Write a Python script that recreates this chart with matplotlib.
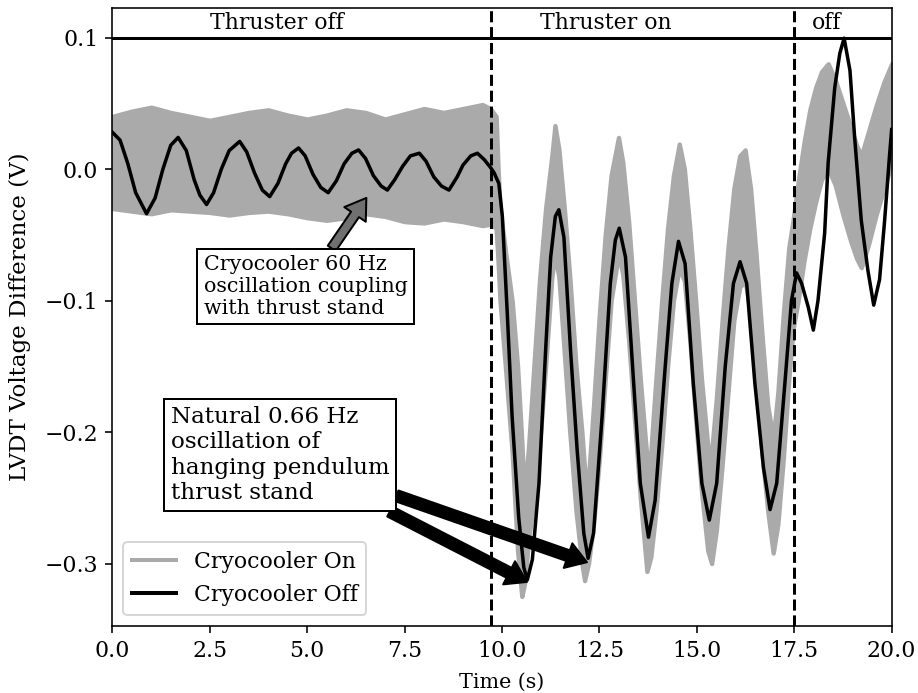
import numpy as np
import matplotlib
matplotlib.use('Agg')
import matplotlib.pyplot as plt
from matplotlib.lines import Line2D

plt.rcParams['font.family'] = 'serif'
plt.rcParams['font.serif'] = ['DejaVu Serif']
plt.rcParams['font.size'] = 10

# Cryocooler on: envelope of the 60 Hz band (upper / lower edge)
t_on = [0.0, 0.5, 1.0, 1.5, 2.0, 2.5, 3.0, 3.5, 4.0, 4.5, 5.0, 5.5, 6.0, 6.5, 7.0, 7.5, 8.0, 8.5, 9.0, 9.5, 9.7, 9.85,
        9.90, 9.95, 10.10, 10.26, 10.40, 10.51, 10.58, 10.69, 10.83, 10.97,
        11.12, 11.28, 11.36, 11.46, 11.60, 11.74, 11.90, 12.05, 12.12, 12.22,
        12.35, 12.50, 12.65, 12.80, 12.99, 13.10, 13.25, 13.40, 13.55, 13.72,
        13.82, 13.95, 14.10, 14.25, 14.40, 14.55, 14.68, 14.82, 14.97, 15.12,
        15.28, 15.38, 15.50, 15.65, 15.80, 15.95, 16.10, 16.24, 16.38, 16.52,
        16.67, 16.82, 16.96, 17.08, 17.22, 17.36, 17.47, 17.60, 17.75, 17.90,
        18.05, 18.20, 18.37, 18.55, 18.75, 18.95, 19.10, 19.22, 19.40, 19.60,
        19.80, 20.00]
on_upper = [0.040, 0.044, 0.047, 0.043, 0.040, 0.037, 0.040, 0.043, 0.045, 0.041, 0.038, 0.041, 0.045, 0.043,
            0.038, 0.042, 0.046, 0.043, 0.046, 0.049, 0.046, 0.040,
            0.000, -0.030, -0.065, -0.100, -0.150, -0.208, -0.250, -0.208, -0.145, -0.082,
            -0.030, 0.010, 0.033, 0.015, -0.030, -0.082, -0.150, -0.200, -0.228, -0.235,
            -0.180, -0.110, -0.050, -0.005, 0.024, 0.005, -0.040, -0.100, -0.160, -0.220,
            -0.215, -0.160, -0.100, -0.045, -0.005, 0.019, 0.000, -0.045, -0.100, -0.160,
            -0.210, -0.215, -0.175, -0.115, -0.060, -0.015, 0.010, 0.0145, -0.015, -0.065,
            -0.125, -0.180, -0.205, -0.170, -0.110, -0.060, -0.039, -0.010, 0.020, 0.045,
            0.062, 0.074, 0.080, 0.068, 0.050, 0.032, 0.018, 0.010, 0.028, 0.048,
            0.066, 0.080]
on_lower = [-0.030, -0.032, -0.034, -0.031, -0.032, -0.033, -0.035, -0.033, -0.032, -0.034, -0.037, -0.039,
            -0.037, -0.034, -0.036, -0.040, -0.041, -0.038, -0.040, -0.043, -0.042, -0.045,
            -0.070, -0.100, -0.155, -0.215, -0.290, -0.325, -0.315, -0.280, -0.250, -0.208,
            -0.150, -0.082, -0.065, -0.082, -0.140, -0.200, -0.260, -0.300, -0.313, -0.300,
            -0.270, -0.220, -0.160, -0.100, -0.065, -0.080, -0.130, -0.190, -0.250, -0.306,
            -0.295, -0.260, -0.210, -0.150, -0.100, -0.075, -0.085, -0.130, -0.190, -0.245,
            -0.290, -0.300, -0.275, -0.225, -0.170, -0.115, -0.090, -0.085, -0.110, -0.160,
            -0.215, -0.260, -0.292, -0.270, -0.220, -0.160, -0.122, -0.100, -0.070, -0.045,
            -0.025, -0.008, 0.000, -0.012, -0.035, -0.055, -0.068, -0.075, -0.058, -0.035,
            -0.015, 0.004]

# Cryocooler off
t_off = [0.00, 0.20, 0.40, 0.60, 0.88, 1.10, 1.30, 1.50, 1.69, 1.90,
         2.10, 2.25, 2.42, 2.60, 2.80, 3.00, 3.27, 3.45, 3.65, 3.85,
         4.04, 4.25, 4.45, 4.60, 4.78, 4.95, 5.15, 5.35, 5.54, 5.75,
         5.95, 6.15, 6.32, 6.50, 6.70, 6.90, 7.06, 7.25, 7.45, 7.65,
         7.88, 8.05, 8.25, 8.45, 8.64, 8.85, 9.00, 9.20, 9.37, 9.55,
         9.71, 9.80, 9.92, 10.01, 10.14, 10.26, 10.43, 10.56, 10.65, 10.78,
         10.95, 11.12, 11.25, 11.37, 11.46, 11.59, 11.76, 11.93, 12.10, 12.21,
         12.35, 12.57, 12.78, 12.91, 13.01, 13.17, 13.38, 13.55, 13.76, 13.93,
         14.19, 14.36, 14.53, 14.70, 14.91, 15.13, 15.32, 15.51, 15.73, 15.94,
         16.11, 16.28, 16.49, 16.71, 16.88, 17.05, 17.26, 17.43, 17.56, 17.69,
         17.86, 17.99, 18.11, 18.28, 18.37, 18.54, 18.67, 18.78, 18.93, 19.05,
         19.22, 19.39, 19.54, 19.69, 19.82, 19.95, 20.00]
v_off = [0.028, 0.022, 0.004, -0.018, -0.034, -0.022, 0.000, 0.018, 0.024, 0.014,
         -0.008, -0.020, -0.027, -0.018, 0.000, 0.014, 0.021, 0.013, -0.003, -0.016,
         -0.021, -0.011, 0.004, 0.012, 0.016, 0.010, -0.004, -0.014, -0.018, -0.009,
         0.004, 0.012, 0.0145, 0.008, -0.005, -0.013, -0.016, -0.008, 0.002, 0.010,
         0.012, 0.006, -0.006, -0.013, -0.016, -0.006, 0.003, 0.010, 0.012, 0.007,
         0.001, -0.003, -0.011, -0.036, -0.112, -0.188, -0.265, -0.303, -0.3125, -0.297,
         -0.239, -0.138, -0.067, -0.036, -0.031, -0.052, -0.138, -0.214, -0.277, -0.296,
         -0.277, -0.188, -0.087, -0.054, -0.045, -0.067, -0.163, -0.239, -0.280, -0.252,
         -0.150, -0.087, -0.055, -0.072, -0.163, -0.239, -0.267, -0.239, -0.150, -0.087,
         -0.0705, -0.087, -0.163, -0.227, -0.259, -0.239, -0.163, -0.100, -0.079, -0.087,
         -0.105, -0.1225, -0.100, -0.049, 0.0045, 0.062, 0.088, 0.0995, 0.075, 0.024,
         -0.039, -0.077, -0.1035, -0.084, -0.039, 0.012, 0.030]

thruster_times = [9.72, 17.5]
phase_labels = ['Thruster off', 'Thruster on', 'off']
phase_x = [4.23, 12.67, 18.34]

grey = '#aaaaaa'

fig = plt.figure(figsize=(918 / 144, 693 / 144), dpi=144)
ax = fig.add_axes([0.1223, 0.0967, 0.849, 0.8913])

# edge line thickens the band a little, like the jagged 60 Hz trace
ax.fill_between(t_on, on_lower, on_upper, facecolor=grey, edgecolor=grey, lw=2.2)
ax.plot(t_off, v_off, color='k', lw=1.75)

for tt in thruster_times:
    ax.axvline(tt, color='k', ls='--', lw=1.5)
ax.axhline(0.1, color='k', lw=1.5)
for lab, xx in zip(phase_labels, phase_x):
    ax.text(xx, 0.1112, lab, ha='center', va='center', fontsize=11)

ax.annotate('Cryocooler 60 Hz\noscillation coupling\nwith thrust stand',
            xy=(6.52, -0.022), xytext=(4.96, -0.0894), ha='center', va='center',
            multialignment='left', fontsize=10.3,
            bbox=dict(boxstyle='square', fc='white', ec='black'),
            arrowprops=dict(arrowstyle='simple, head_length=0.5, head_width=0.65, tail_width=0.24',
                            mutation_scale=20, fc='#707070', ec='black', lw=1,
                            shrinkA=0, shrinkB=0))
for xy in [(10.64, -0.314), (12.18, -0.299)]:
    ax.annotate('Natural 0.66 Hz\noscillation of\nhanging pendulum\nthrust stand',
                xy=xy, xytext=(4.30, -0.2175), ha='center', va='center',
                multialignment='left', fontsize=11.5,
                bbox=dict(boxstyle='square', fc='white', ec='black'),
                arrowprops=dict(arrowstyle='simple, head_length=0.5, head_width=0.65, tail_width=0.28',
                                mutation_scale=20, fc='black', ec='black', lw=1,
                                shrinkA=0, shrinkB=0))

handles = [Line2D([], [], color=grey, lw=2), Line2D([], [], color='k', lw=2)]
ax.legend(handles, ['Cryocooler On', 'Cryocooler Off'], loc='lower left', fontsize=11)

ax.set_xlim(0, 20)
ax.set_ylim(-0.3475, 0.1222)
ax.set_xticks([0, 2.5, 5, 7.5, 10, 12.5, 15, 17.5, 20])
ax.set_yticks([-0.3, -0.2, -0.1, 0.0, 0.1])
ax.tick_params(labelsize=11)
ax.set_xlabel('Time (s)', fontsize=10.3)
ax.set_ylabel('LVDT Voltage Difference (V)', fontsize=11.5)
ax.xaxis.set_label_coords(0.5, -0.076)
ax.yaxis.set_label_coords(-0.104, 0.5)

fig.savefig('out.png', dpi=144)
